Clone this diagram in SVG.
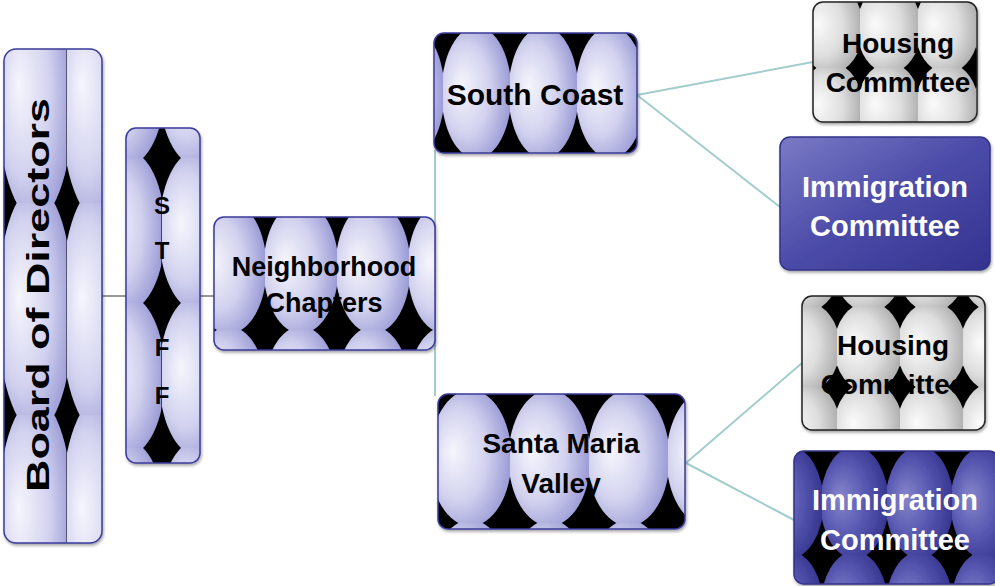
<svg xmlns="http://www.w3.org/2000/svg" width="995" height="586" viewBox="0 0 995 586">
<style>
.lbl{font-family:"Liberation Sans",Arial,sans-serif;font-weight:bold;text-anchor:middle;fill:#000}
.wht{fill:#fff}
.bx{stroke:#3b3b9b;stroke-width:1.5}
.gb{stroke:#222;stroke-width:1.5}
.conn{stroke:#a3cccc;stroke-width:2;fill:none}
.dk{stroke:#333;stroke-width:1;fill:none}
</style>
<defs>
<filter id="sh" x="-10%" y="-10%" width="120%" height="120%"><feDropShadow dx="1" dy="2" stdDeviation="1.5" flood-opacity="0.35"/></filter>
<radialGradient id="gLav" cx="0.4" cy="0.5" r="0.62" fx="0.28" fy="0.45"><stop offset="0" stop-color="#f6f6fd"/><stop offset="0.55" stop-color="#d2d2ef"/><stop offset="1" stop-color="#9696d4"/></radialGradient>
<radialGradient id="gGray" cx="0.4" cy="0.5" r="0.62" fx="0.28" fy="0.45"><stop offset="0" stop-color="#fbfbfb"/><stop offset="0.55" stop-color="#dedede"/><stop offset="1" stop-color="#a9a9a9"/></radialGradient>
<radialGradient id="gPur" cx="0.4" cy="0.5" r="0.62" fx="0.28" fy="0.45"><stop offset="0" stop-color="#8686cc"/><stop offset="0.55" stop-color="#5656b0"/><stop offset="1" stop-color="#34348e"/></radialGradient>
<linearGradient id="gImm" x1="0" y1="0" x2="1" y2="1"><stop offset="0" stop-color="#7a7ac6"/><stop offset="0.5" stop-color="#4b4ba8"/><stop offset="1" stop-color="#33338f"/></linearGradient>
<pattern id="pBoard" patternUnits="userSpaceOnUse" x="4" y="-9" width="63" height="212"><rect width="63" height="212" fill="#000"/><ellipse cx="31.5" cy="106" rx="38" ry="122" fill="url(#gLav)"/><rect x="62.5" width="1.2" height="212" fill="#000"/></pattern>
<pattern id="pStaff" patternUnits="userSpaceOnUse" x="92" y="13" width="70" height="145"><rect width="70" height="145" fill="#000"/><ellipse cx="35" cy="72.5" rx="38" ry="80" fill="url(#gLav)"/><rect x="69.4" width="1.2" height="145" fill="#000"/></pattern>
<pattern id="pNb" patternUnits="userSpaceOnUse" x="193" y="205" width="72" height="125"><rect width="72" height="125" fill="#000"/><ellipse cx="36" cy="62.5" rx="37.5" ry="66" fill="url(#gLav)"/></pattern>
<pattern id="pSC" patternUnits="userSpaceOnUse" x="443" y="30" width="67" height="125"><rect width="67" height="125" fill="#000"/><ellipse cx="33.5" cy="62.5" rx="35" ry="66" fill="url(#gLav)"/></pattern>
<pattern id="pSM" patternUnits="userSpaceOnUse" x="431" y="393" width="79" height="130"><rect width="79" height="130" fill="#000"/><ellipse cx="39.5" cy="65" rx="41" ry="68" fill="url(#gLav)"/></pattern>
<pattern id="pH1" patternUnits="userSpaceOnUse" x="802" y="-12" width="58" height="80"><rect width="58" height="80" fill="#000"/><ellipse cx="29" cy="40" rx="32" ry="45" fill="url(#gGray)"/></pattern>
<pattern id="pH2" patternUnits="userSpaceOnUse" x="774" y="307" width="63" height="80"><rect width="63" height="80" fill="#000"/><ellipse cx="31.5" cy="40" rx="34.5" ry="45" fill="url(#gGray)"/></pattern>
<pattern id="pI2" patternUnits="userSpaceOnUse" x="757" y="450" width="65" height="105"><rect width="65" height="105" fill="#000"/><ellipse cx="32.5" cy="52.5" rx="34" ry="56" fill="url(#gPur)"/></pattern>
</defs>

<g id="connectors">
<line class="dk" x1="102" y1="296" x2="126" y2="296"/>
<line class="dk" x1="200" y1="296" x2="214" y2="296"/>
<line class="conn" x1="435" y1="150" x2="435" y2="396"/>
<line class="conn" x1="637" y1="95" x2="813" y2="62"/>
<line class="conn" x1="637" y1="95" x2="780" y2="207"/>
<line class="conn" x1="686" y1="463" x2="802" y2="363"/>
<line class="conn" x1="686" y1="463" x2="794" y2="520"/>
</g>

<g id="board">
<rect class="bx" x="4" y="49" width="98" height="494" rx="12" fill="url(#pBoard)" filter="url(#sh)"/>
<text class="lbl" transform="translate(49,295) rotate(-90)" x="0" y="0" font-size="31" textLength="394" lengthAdjust="spacingAndGlyphs">Board of Directors</text>
</g>

<g id="staff">
<rect class="bx" x="126" y="128" width="74" height="335" rx="10" fill="url(#pStaff)" filter="url(#sh)"/>
<text class="lbl" font-size="24"><tspan x="162" y="214">S</tspan><tspan x="162" y="259">T</tspan><tspan x="162" y="306">A</tspan><tspan x="162" y="356">F</tspan><tspan x="162" y="404">F</tspan></text>
</g>

<g id="neighborhood">
<rect class="bx" x="214" y="217" width="221" height="133" rx="10" fill="url(#pNb)" filter="url(#sh)"/>
<text class="lbl" font-size="27"><tspan x="324" y="276">Neighborhood</tspan><tspan x="324" y="312">Chapters</tspan></text>
</g>

<g id="south-coast">
<rect class="bx" x="434" y="33" width="203" height="120" rx="10" fill="url(#pSC)" filter="url(#sh)"/>
<text class="lbl" x="535" y="105" font-size="30">South Coast</text>
</g>

<g id="santa-maria">
<rect class="bx" x="438" y="394" width="247" height="135" rx="10" fill="url(#pSM)" filter="url(#sh)"/>
<text class="lbl" font-size="28"><tspan x="561" y="453">Santa Maria</tspan><tspan x="561" y="493">Valley</tspan></text>
</g>

<g id="housing-1">
<rect class="gb" x="813" y="2" width="164" height="120" rx="10" fill="url(#pH1)" filter="url(#sh)"/>
<text class="lbl" font-size="28"><tspan x="898" y="53">Housing</tspan><tspan x="898" y="92">Committee</tspan></text>
</g>

<g id="immigration-1">
<rect x="780" y="137" width="210" height="133" rx="10" fill="url(#gImm)" stroke="#33338a" stroke-width="1.5" filter="url(#sh)"/>
<text class="lbl wht" font-size="29"><tspan x="885" y="197">Immigration</tspan><tspan x="885" y="236">Committee</tspan></text>
</g>

<g id="housing-2">
<rect class="gb" x="802" y="296" width="183" height="134" rx="10" fill="url(#pH2)" filter="url(#sh)"/>
<text class="lbl" font-size="28"><tspan x="893" y="355">Housing</tspan><tspan x="893" y="394">Committee</tspan></text>
</g>

<g id="immigration-2">
<rect x="794" y="451" width="205" height="133" rx="10" fill="url(#pI2)" stroke="#33338a" stroke-width="1.5" filter="url(#sh)"/>
<text class="lbl wht" font-size="29"><tspan x="895" y="510">Immigration</tspan><tspan x="895" y="550">Committee</tspan></text>
</g>
</svg>
